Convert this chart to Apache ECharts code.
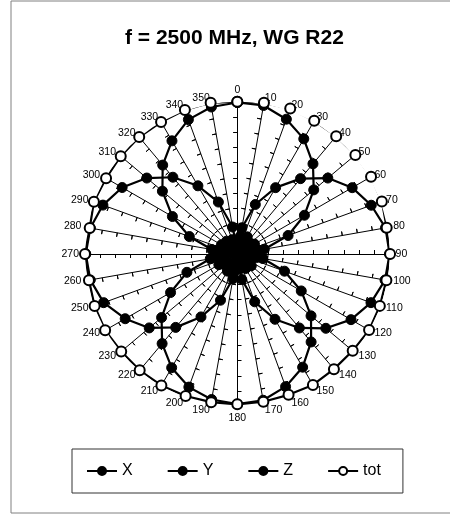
<!DOCTYPE html>
<html>
<head>
<meta charset="utf-8">
<script src="https://cdn.jsdelivr.net/npm/echarts@6/dist/echarts.min.js"></script>
<style>
  html, body { margin: 0; padding: 0; background: #fff; }
  #chart { width: 450px; height: 518px; }
</style>
</head>
<body>
<div id="chart"></div>
<script>
// Measurement angles in degrees (0 at top, clockwise)
const angles = [0, 10, 20, 30, 40, 50, 60, 70, 80, 90, 100, 110, 120, 130, 140, 150, 160, 170,
                180, 190, 200, 210, 220, 230, 240, 250, 260, 270, 280, 290, 300, 310, 320, 330, 340, 350];

// Field components per angle
const xValues = [0.30, 1.75, 3.46, 5.03, 6.46, 7.76, 8.71, 9.36, 9.88, 10.00, 9.85, 9.34, 8.62, 7.59, 6.34, 4.95, 3.34, 1.70,
                 0.30, 1.65, 3.23, 4.77, 6.29, 7.55, 8.50, 9.34, 9.80, 9.95, 9.80, 9.39, 8.73, 7.76, 6.58, 5.17, 3.63, 1.80];
const yValues = [9.95, 9.90, 9.42, 8.73, 7.73, 6.55, 5.09, 3.55, 1.80, 0.30, 1.70, 3.30, 4.85, 6.32, 7.54, 8.58, 9.27, 9.75,
                 9.85, 9.70, 9.30, 8.62, 7.68, 6.49, 5.06, 3.52, 1.80, 0.30, 1.70, 3.35, 4.92, 6.42, 7.62, 8.58, 9.39, 9.80];
const zValues = [0.60, 1.20, 0.80, 1.30, 0.70, 1.10, 1.30, 0.90, 1.40, 0.80, 1.30, 1.00, 0.70, 1.20, 0.90, 1.10, 0.60, 1.00,
                 0.80, 1.20, 0.90, 1.30, 0.80, 1.10, 1.40, 0.90, 1.30, 1.00, 1.40, 0.80, 1.20, 0.90, 1.10, 0.70, 1.00, 0.80];
const totValues = [10.00, 10.08, 10.16, 10.10, 10.10, 10.12, 10.14, 10.10, 9.96, 10.03, 9.94, 9.96, 9.99, 9.89, 9.87, 9.93, 9.84, 9.85,
                   9.87, 9.88, 9.92, 9.97, 9.97, 9.95, 10.02, 9.97, 9.89, 10.00, 9.84, 10.02, 9.95, 9.99, 10.02, 10.01, 10.06, 10.08];

const seriesNames = ['X', 'Y', 'Z', 'tot'];
const radialMax = 10;

const CX = 237.3, CY = 254, R = 152.3;
const FONT = 'Liberation Sans, Arial, sans-serif';

// Radar indicators run counter-clockwise, so list the angles in reverse to get a clockwise dial
const indicatorOrder = [0].concat(angles.slice(1).reverse());
const indicators = indicatorOrder.map(a => ({ name: String(a), min: 0, max: radialMax }));

// Closed polar path: [radius, angle] pairs plus the first point repeated at 360
function closedPath(values) {
  const pts = values.map((v, i) => [v, angles[i]]);
  pts.push([values[0], 360]);
  return pts;
}

const baseRadar = {
  center: [CX, CY],
  radius: R,
  startAngle: 90,
  splitNumber: 10,
  shape: 'circle',
  indicator: indicators,
  splitLine: { show: false },
  splitArea: { show: false },
  axisLine: { show: true, lineStyle: { color: '#000', width: 1 } },
  axisTick: { show: true, length: 4, lineStyle: { color: '#000', width: 1 } }
};

const filledSeries = [xValues, yValues, zValues].map((vals, k) => ({
  name: seriesNames[k],
  type: 'line',
  coordinateSystem: 'polar',
  polarIndex: 0,
  data: closedPath(vals),
  clip: false,
  symbol: 'circle',
  symbolSize: 10,
  showSymbol: true,
  animation: false,
  lineStyle: { color: '#000', width: 2.2 },
  itemStyle: { color: '#000', borderColor: '#000', borderWidth: 1 },
  z: 3
}));

const totSeries = {
  name: seriesNames[3],
  type: 'line',
  coordinateSystem: 'polar',
  polarIndex: 0,
  data: closedPath(totValues),
  clip: false,
  symbol: 'circle',
  symbolSize: 10,
  animation: false,
  lineStyle: { color: '#000', width: 2.2 },
  itemStyle: { color: '#fff', borderColor: '#000', borderWidth: 2 },
  z: 4
};

const chart = echarts.init(document.getElementById('chart'), null, { renderer: 'canvas' });

chart.setOption({
  animation: false,
  backgroundColor: '#fff',
  title: {
    text: 'f = 2500 MHz, WG R22',
    left: 120,
    top: 23,
    textStyle: { fontFamily: FONT, fontSize: 21, fontWeight: 'bold', color: '#000' }
  },
  graphic: [{
    type: 'rect',
    shape: { x: 11, y: 1, width: 470, height: 512 },
    style: { fill: 'none', stroke: '#808080', lineWidth: 1 },
    silent: true,
    z: -1
  }],
  legend: {
    data: seriesNames,
    left: 72,
    top: 449,
    padding: [14, 22, 14, 14],
    borderColor: '#333',
    borderWidth: 1,
    itemWidth: 30,
    itemHeight: 10,
    itemGap: 34,
    textStyle: { fontFamily: FONT, fontSize: 16, color: '#000' }
  },
  polar: { center: [CX, CY], radius: R },
  angleAxis: { type: 'value', min: 0, max: 360, startAngle: 90, clockwise: true, show: false },
  radiusAxis: { type: 'value', min: 0, max: radialMax, show: false },
  radar: [
    Object.assign({}, baseRadar, {
      nameGap: 6,
      axisName: { color: '#000', fontFamily: FONT, fontSize: 10.5 }
    }),
    Object.assign({}, baseRadar, {
      axisName: { show: false },
      axisLine: { show: false },
      axisTick: { show: true, inside: true, length: 4, lineStyle: { color: '#000', width: 1 } }
    })
  ],
  series: filledSeries.concat([totSeries])
});
</script>
</body>
</html>
